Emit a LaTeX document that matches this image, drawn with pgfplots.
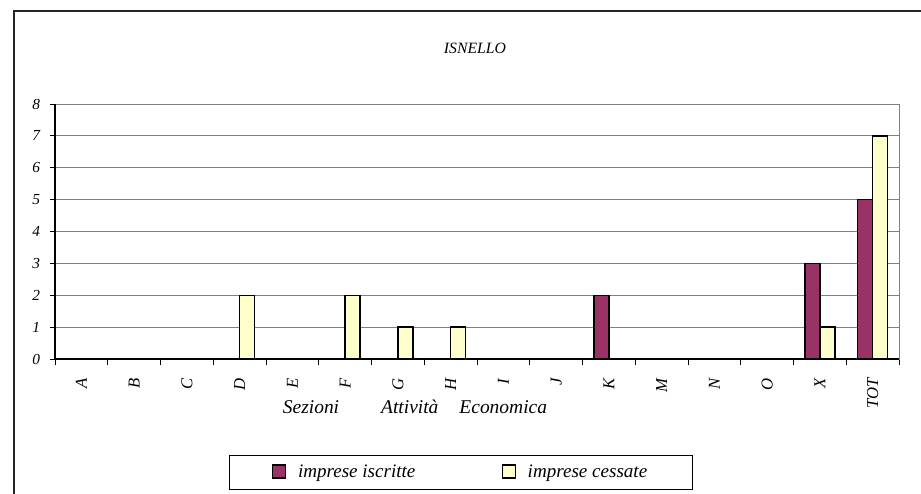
\documentclass[border=0pt]{standalone}
\usepackage{pgfplots}
\pgfplotsset{compat=1.18}
\usepackage{fontspec}
\setmainfont{Liberation Serif}
\definecolor{iscr}{HTML}{993366}
\definecolor{cess}{HTML}{FFFFCC}
\definecolor{gridg}{HTML}{808080}
\begin{document}
\begin{tikzpicture}[x=0.75pt,y=0.75pt]
\useasboundingbox (0,0) rectangle (921,493);
\draw[line width=1pt, black!85] (14,-5) -- (14,482) -- (930,482);
\begin{axis}[
  at={(55*0.75pt,134*0.75pt)}, anchor=south west,
  scale only axis, width=633pt, height=191.25pt,
  xmin=-0.5, xmax=15.5, ymin=0, ymax=8,
  ybar, bar width=11.25pt,
  xtick={0,...,15},
  xticklabels={A,B,C,D,E,F,G,H,I,J,K,M,N,O,X,TOT},
  minor xtick={-0.5,0.5,...,15.5},
  ytick={0,...,8},
  major x tick style={draw=none},
  minor tick length=4.5pt,
  major tick length=4pt,
  tick align=outside,
  tick style={black, line width=0.75pt},
  xtick pos=bottom, ytick pos=left,
  ymajorgrids, grid style={gridg, line width=0.75pt},
  axis line style={gridg, line width=0.75pt},
  /pgf/number format/assume math mode=true,
  yticklabel style={font=\fontsize{11.5}{13}\selectfont\itshape, inner sep=0pt, xshift=-7pt},
  xticklabel style={font=\fontsize{12.5}{14}\selectfont\itshape, rotate=90, anchor=east, inner sep=0pt},
  xticklabel shift=10.5pt,
  legend columns=2,
  legend style={at={(0.481,-0.445)}, anchor=center, draw=black, line width=0.75pt,
    font=\fontsize{14.3}{16}\selectfont\itshape, inner xsep=32.25pt, inner ysep=5pt,
    /tikz/every odd column/.append style={column sep=6.75pt},
    /tikz/every even column/.append style={column sep=62.75pt}},
  legend image code/.code={\draw[#1, line width=1pt] (0pt,-4.2pt) rectangle (9.75pt,5.55pt);},
  clip=false,
]
\addplot[draw=black, line width=1pt, fill=iscr, bar shift=-5.625pt] coordinates {
(0,0) (1,0) (2,0) (3,0) (4,0) (5,0) (6,0) (7,0) (8,0) (9,0) (10,2) (11,0) (12,0) (13,0) (14,3) (15,5)};
\addplot[draw=black, line width=1pt, fill=cess, bar shift=5.625pt] coordinates {
(0,0) (1,0) (2,0) (3,2) (4,0) (5,2) (6,1) (7,1) (8,0) (9,0) (10,0) (11,0) (12,0) (13,0) (14,1) (15,7)};
\legend{imprese iscritte, imprese cessate}
\draw[black, line width=1pt] (rel axis cs:0,1) -- (rel axis cs:0,0) -- (rel axis cs:1,0);
\node[font=\fontsize{11.8}{13}\selectfont\itshape] at (rel axis cs:0.4976,1.2196) {ISNELLO};
\node[font=\fontsize{14.6}{16}\selectfont\itshape] at (rel axis cs:0.4265,-0.188) {Sezioni\hspace{31.5pt}Attività\hspace{15.75pt}Economica};
\end{axis}
\end{tikzpicture}
\end{document}
